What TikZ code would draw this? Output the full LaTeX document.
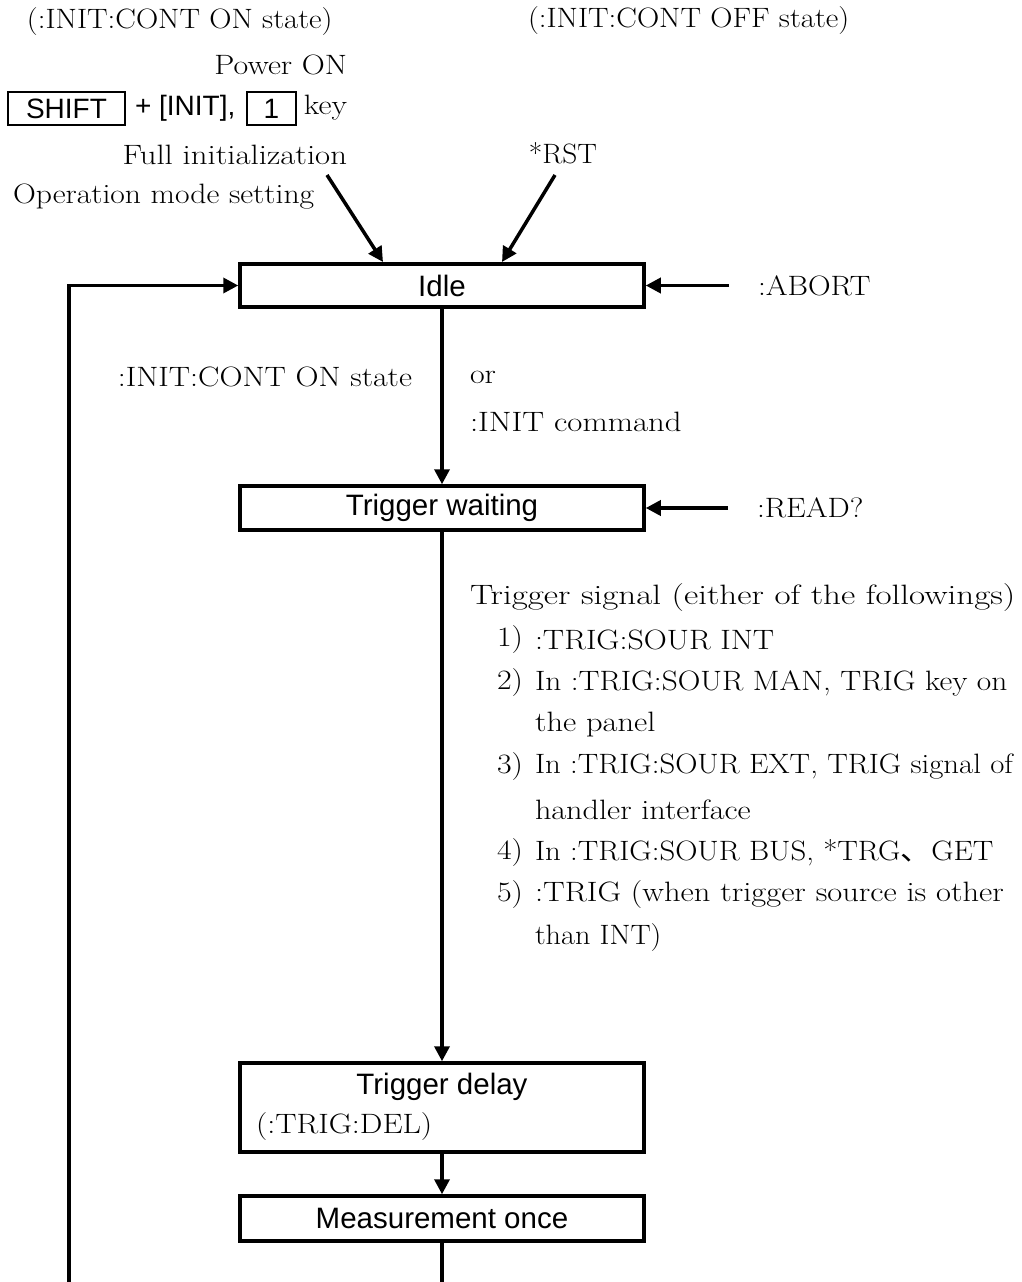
\documentclass[tikz,border=0pt]{standalone}
\usepackage{fontspec}
\usepackage{graphicx}
\usetikzlibrary{arrows.meta}
\newfontfamily\arial{Liberation Sans}
\newfontfamily\cjk{Noto Sans CJK JP}
\newcommand\sx[2][1.14]{\scalebox{#1}[1]{#2}}
\begin{document}
\begin{tikzpicture}[x=1pt,y=-1pt,
  every node/.style={inner sep=0pt, outer sep=0pt},
  serif/.style={font=\fontsize{28}{33}\selectfont},
  sans/.style={font=\arial\fontsize{29.5}{33}\selectfont},
  keyfont/.style={font=\arial\fontsize{28}{33}\selectfont},
  box/.style={draw, line width=3.5pt, rectangle, outer sep=1.75pt, sans, minimum width=404pt},
  keybox/.style={draw, line width=2pt, rectangle, outer sep=1pt, keyfont},
  conn/.style={line width=3.5pt},
  arr/.style={line width=3.5pt, -{Triangle[length=15pt,width=15pt]}},
]
\useasboundingbox (0,0) rectangle (1021,1282);

% top texts
\node[serif, anchor=west] (onstate) at (27,22) {\sx[1.1]{(:INIT:CONT ON state)}};
\node[serif, anchor=west] (offstate) at (528,21) {\sx[1.1]{(:INIT:CONT OFF state)}};
\node[serif, anchor=east] (pwr) at (347,65) {\sx{Power ON}};
\node[keybox, minimum width=117pt, minimum height=33pt] (shift) at (66.5,108.5) {SHIFT};
\node[keyfont, anchor=west] (plus) at (135,108) {+ [INIT],};
\node[keybox, minimum width=49pt, minimum height=33pt] (one) at (271.5,108.5) {1};
\node[serif, anchor=east] (key) at (347,108) {\sx{key}};
\node[serif, anchor=east] (fullinit) at (347,155) {\sx[1.17]{Full initialization}};
\node[serif, anchor=west] (opmode) at (13,197) {\sx[1.13]{Operation mode setting}};
\node[serif] (rst) at (563,153) {\sx[1.05]{*RST}};

% boxes
\node[box, minimum height=43pt] (idle) at (442,285.5) {Idle};
\node[box, minimum height=44pt] (twait) at (442,508) {Trigger waiting};
\node[box, minimum height=89pt] (tdel) at (442,1107.5) {};
\node[sans] (tdeltxt) at (442,1087) {Trigger delay};
\node[serif, anchor=west] (tdelcmd) at (256,1126) {\sx{(:TRIG:DEL)}};
\node[box, minimum height=45pt] (meas) at (442,1218.5) {Measurement once};

% side labels
\node[serif, anchor=west] (abort) at (758,285.5) {\sx[1.12]{:ABORT}};
\node[serif, anchor=west] (read) at (757,508) {\sx[1.12]{:READ?}};
\node[serif, anchor=east] (conton) at (412,377) {\sx{:INIT:CONT ON state}};
\node[serif, anchor=west] (or) at (470,377) {\sx{or}};
\node[serif, anchor=west] (initcmd) at (470,422) {\sx[1.17]{:INIT command}};

% trigger list
\node[serif, anchor=west] (tsig) at (470,598) {\sx[1.25]{Trigger signal (either of the followings)}};
\node[serif, anchor=west] (n1) at (497,640) {\sx{1)}};
\node[serif, anchor=west] (t1) at (535,640) {\sx{:TRIG:SOUR INT}};
\node[serif, anchor=west] (n2) at (497,683) {\sx{2)}};
\node[serif, anchor=west] (t2) at (535,683) {\sx[1.12]{In :TRIG:SOUR MAN, TRIG key on}};
\node[serif, anchor=west] (t2b) at (535,725) {\sx[1.16]{the panel}};
\node[serif, anchor=west] (n3) at (497,767) {\sx{3)}};
\node[serif, anchor=west] (t3) at (535,767) {\sx[1.1]{In :TRIG:SOUR EXT, TRIG signal of}};
\node[serif, anchor=west] (t3b) at (535,810) {\sx[1.15]{handler interface}};
\node[serif, anchor=west] (n4) at (497,853) {\sx{4)}};
\node[serif, anchor=west] (t4) at (535,853) {\sx[1.1]{In :TRIG:SOUR BUS, *TRG{\cjk 、}GET}};
\node[serif, anchor=west] (n5) at (497,895) {\sx{5)}};
\node[serif, anchor=west] (t5) at (535,895) {\sx[1.16]{:TRIG (when trigger source is other}};
\node[serif, anchor=west] (t5b) at (535,938) {\sx[1.08]{than INT)}};

% coordinates
\coordinate (fis) at (327,175);
\coordinate (fit) at (383,262);
\coordinate (rsts) at (555,175);
\coordinate (rstt) at (502,262);
\coordinate (lbot) at (69,1282);
\coordinate (cbot) at (442,1282);

% connectors
\draw[arr] (fis) -- (fit);
\draw[arr] (rsts) -- (rstt);
\draw[arr] ([xshift=-29pt]abort.west) -- (abort.west -| idle.east);
\draw[arr] ([xshift=-29pt]read.west) -- (read.west -| twait.east);
\draw[arr] (idle) -- (twait);
\draw[arr] (twait) -- (tdel);
\draw[arr] (tdel) -- (meas);
\draw[conn] (meas) -- (cbot);
\draw[arr] (lbot) |- (idle.west);
\end{tikzpicture}
\end{document}
